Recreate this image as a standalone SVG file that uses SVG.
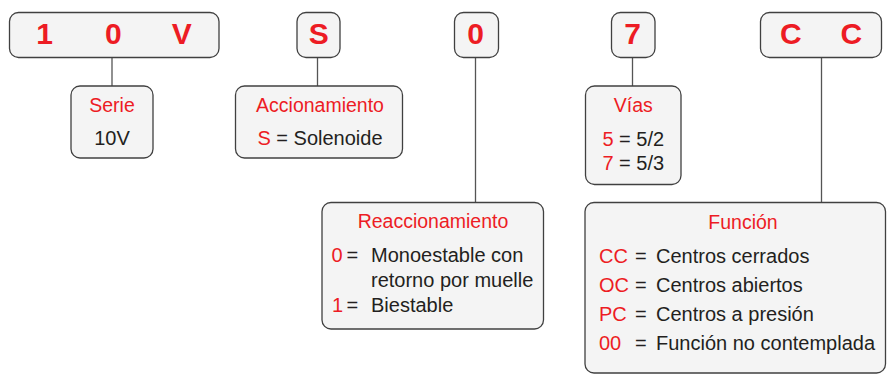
<svg xmlns="http://www.w3.org/2000/svg" width="887" height="374" viewBox="0 0 887 374">
<style>
.box{fill:#f4f4f4;stroke:#404040;stroke-width:1.3}
.ln{stroke:#555;stroke-width:1.3;fill:none}
.code{font-family:"Liberation Sans",Arial,sans-serif;font-weight:bold;font-size:30px;fill:#ed1c24;text-anchor:middle}
.hd{font-family:"Liberation Sans",Arial,sans-serif;font-size:19.5px;fill:#ed1c24;text-anchor:middle}
.t{font-family:"Liberation Sans",Arial,sans-serif;font-size:20px;fill:#231f20}
.r{fill:#ed1c24}
.m{text-anchor:middle}
</style>
<rect width="887" height="374" fill="#ffffff"/>
<g id="connectors">
<line class="ln" x1="112" y1="57.5" x2="112" y2="86"/>
<line class="ln" x1="317.5" y1="57.5" x2="317.5" y2="86"/>
<line class="ln" x1="475.5" y1="57.5" x2="475.5" y2="202.5"/>
<line class="ln" x1="632.5" y1="57.5" x2="632.5" y2="86"/>
<line class="ln" x1="821.5" y1="57.5" x2="821.5" y2="202.5"/>
</g>
<g id="code-10V">
<rect class="box" x="9.5" y="12.5" width="209.5" height="45" rx="9"/>
<text class="code" x="44.7" y="44">1</text>
<text class="code" x="113.3" y="44">0</text>
<text class="code" x="181.7" y="44">V</text>
</g>
<g id="code-S">
<rect class="box" x="297" y="12.5" width="43" height="45" rx="9"/>
<text class="code" x="318.8" y="44">S</text>
</g>
<g id="code-0">
<rect class="box" x="454.5" y="12.5" width="44" height="45" rx="9"/>
<text class="code" x="475.5" y="44">0</text>
</g>
<g id="code-7">
<rect class="box" x="611.5" y="12.5" width="43.5" height="45" rx="9"/>
<text class="code" x="632.5" y="44">7</text>
</g>
<g id="code-CC">
<rect class="box" x="760.5" y="12.5" width="121" height="45" rx="9"/>
<text class="code" x="790.8" y="44">C</text>
<text class="code" x="851.3" y="44">C</text>
</g>
<g id="serie">
<rect class="box" x="71" y="86" width="82" height="72" rx="9"/>
<text class="hd" x="112" y="112">Serie</text>
<text class="t m" x="112" y="144.5">10V</text>
</g>
<g id="accionamiento">
<rect class="box" x="235.5" y="86" width="167" height="72" rx="9"/>
<text class="hd" x="320" y="112">Accionamiento</text>
<text class="t m" x="320" y="144.5"><tspan class="r">S</tspan> = Solenoide</text>
</g>
<g id="vias">
<rect class="box" x="585.5" y="86" width="95.5" height="98.5" rx="9"/>
<text class="hd" x="633.3" y="112">Vías</text>
<text class="t m" x="633.3" y="145.5"><tspan class="r">5</tspan> = 5/2</text>
<text class="t m" x="633.3" y="170"><tspan class="r">7</tspan> = 5/3</text>
</g>
<g id="reaccionamiento">
<rect class="box" x="322" y="202.5" width="221.5" height="126.5" rx="9"/>
<text class="hd" x="433" y="227.5">Reaccionamiento</text>
<text class="t r" x="331.5" y="261.7">0</text>
<text class="t" x="346.5" y="261.7">=</text>
<text class="t" x="371" y="261.7">Monoestable con</text>
<text class="t" x="371" y="286.7">retorno por muelle</text>
<text class="t r" x="332" y="311.7">1</text>
<text class="t" x="346.5" y="311.7">=</text>
<text class="t" x="371" y="311.7">Biestable</text>
</g>
<g id="funcion">
<rect class="box" x="585" y="202.5" width="300.5" height="170.5" rx="9"/>
<text class="hd" x="743" y="228.5">Función</text>
<text class="t r" x="599" y="263.3">CC</text>
<text class="t" x="635" y="263.3">=</text>
<text class="t" x="656" y="263.3">Centros cerrados</text>
<text class="t r" x="599" y="292">OC</text>
<text class="t" x="635" y="292">=</text>
<text class="t" x="656" y="292">Centros abiertos</text>
<text class="t r" x="599" y="321">PC</text>
<text class="t" x="635" y="321">=</text>
<text class="t" x="656" y="321">Centros a presión</text>
<text class="t r" x="599" y="350">00</text>
<text class="t" x="635" y="350">=</text>
<text class="t" x="656" y="350">Función no contemplada</text>
</g>
</svg>
